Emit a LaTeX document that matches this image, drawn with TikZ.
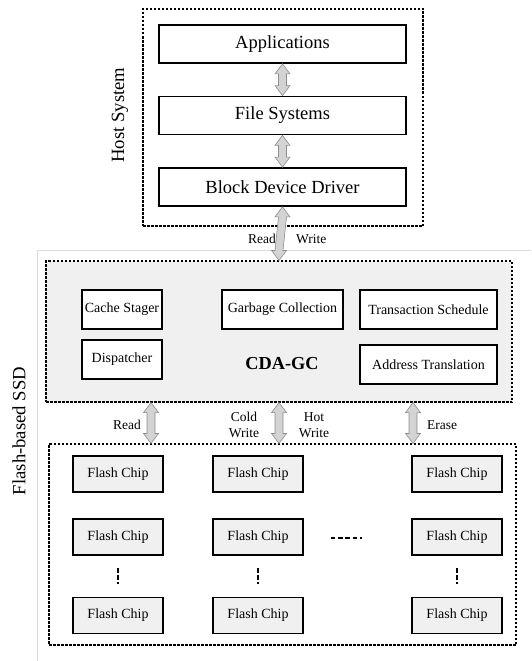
\documentclass[tikz,border=0pt]{standalone}
\usepackage{fontspec}
\setmainfont{Liberation Serif}
\usetikzlibrary{calc}
\definecolor{arrowgray}{HTML}{D3D3D3}
\definecolor{arrowedge}{HTML}{8C8C8C}
\definecolor{panelgray}{HTML}{F0F0F0}
\definecolor{ssdline}{HTML}{DCDCDC}
\newcommand{\dblarrow}[2]{%
  \filldraw[fatarrow] (#1) -- ++(7.5,-10) -- ++(-3.5,0) -- ($(#2)+(4,10)$) -- ++(3.5,0) -- (#2)
    -- ++(-7.5,10) -- ++(3.5,0) -- ($(#1)+(-4,-10)$) -- ++(-3.5,0) -- cycle;}
\begin{document}
\begin{tikzpicture}[x=1pt,y=1pt,
    layerbox/.style={draw,line width=1.8pt,fill=white,minimum width=247pt,minimum height=38pt,inner sep=0pt,font=\fontsize{18.5}{22}\selectfont},
    modbox/.style={draw,line width=1.8pt,fill=white,minimum height=39pt,inner sep=0pt,font=\fontsize{14}{16}\selectfont},
    chipbox/.style={draw,line width=1.8pt,fill=panelgray,minimum width=90pt,minimum height=36pt,inner sep=0pt,font=\fontsize{14}{16}\selectfont},
    groupbox/.style={draw,line width=1.1pt,dash pattern=on 2.5pt off 1.5pt,inner sep=0pt},
    fatarrow/.style={fill=arrowgray,draw=arrowedge,line width=0.6pt},
    lbl/.style={font=\fontsize{13.5}{16.5}\selectfont,align=center,inner sep=0pt},
    sidelbl/.style={font=\fontsize{18.7}{22}\selectfont,rotate=90,inner sep=0pt}]
  \useasboundingbox (0,0) rectangle (531,-661);

  \draw[ssdline,line width=1pt] (531,-250) -- (37,-250) -- (37,-661);

  \node[groupbox,minimum width=280pt,minimum height=217pt] (host) at (283,-117.5) {};
  \node[sidelbl] (hostlbl) at (120,-115) {Host System};
  \node[layerbox] (apps) at (282.5,-44) {Applications};
  \node[layerbox] (fs) at (282.5,-115.5) {File Systems};
  \node[layerbox] (bdd) at (282.5,-187) {Block Device Driver};

  \node[sidelbl] (ssdlbl) at (19,-431) {Flash-based SSD};
  \node[groupbox,fill=panelgray,minimum width=466pt,minimum height=141pt] (cda) at (279,-331.5) {};
  \node[modbox,minimum width=80pt] (stager) at (122,-309.5) {Cache Stager};
  \node[modbox,minimum width=121pt] (gc) at (282.5,-309.5) {Garbage Collection};
  \node[modbox,minimum width=137pt] (sched) at (428.5,-309.5) {Transaction Schedule};
  \node[modbox,minimum width=80pt] (disp) at (122,-359.5) {Dispatcher};
  \node[modbox,minimum width=137pt] (addr) at (428.5,-364.5) {Address Translation};
  \node[font=\fontsize{18.3}{22}\selectfont\bfseries,inner sep=0pt] (cdagc) at (282,-364) {CDA-GC};

  \node[groupbox,minimum width=467pt,minimum height=201pt] (flash) at (282.5,-544.5) {};
  \node[chipbox] (chipA1) at (118,-474) {Flash Chip};
  \node[chipbox] (chipB1) at (258,-474) {Flash Chip};
  \node[chipbox] (chipC1) at (457,-474) {Flash Chip};
  \node[chipbox] (chipA2) at (118,-537) {Flash Chip};
  \node[chipbox] (chipB2) at (258,-537) {Flash Chip};
  \node[chipbox] (chipC2) at (457,-537) {Flash Chip};
  \node[chipbox] (chipA3) at (118,-615.5) {Flash Chip};
  \node[chipbox] (chipB3) at (258,-615.5) {Flash Chip};
  \node[chipbox] (chipC3) at (457,-615.5) {Flash Chip};
  \draw[line width=1.5pt,dash pattern=on 5pt off 1.8pt] ($(chipA2.south)+(0,-12)$) -- ($(chipA3.north)+(0,13)$);
  \draw[line width=1.5pt,dash pattern=on 5pt off 1.8pt] ($(chipB2.south)+(0,-12)$) -- ($(chipB3.north)+(0,13)$);
  \draw[line width=1.5pt,dash pattern=on 5pt off 1.8pt] ($(chipC2.south)+(0,-12)$) -- ($(chipC3.north)+(0,13)$);
  \draw[line width=1.5pt,dash pattern=on 4.5pt off 2.7pt] ($(chipB2.east)+(27,-1)$) -- ($(chipC2.west)+(-49,-1)$);

  \dblarrow{apps.south}{fs.north}
  \dblarrow{fs.south}{bdd.north}
  \dblarrow{bdd.south}{cda.north}
  \node[lbl,anchor=east] (rdhost) at (276,-239) {Read};
  \node[lbl,anchor=west] (wrhost) at (296,-239) {Write};

  \dblarrow{[xshift=-128pt]cda.south}{[xshift=-128pt]cda.south |- flash.north}
  \dblarrow{cda.south}{cda.south |- flash.north}
  \dblarrow{[xshift=134pt]cda.south}{[xshift=134pt]cda.south |- flash.north}
  \node[lbl] (rdchip) at (127,-425) {Read};
  \node[lbl] (coldwr) at (244,-425) {Cold\\Write};
  \node[lbl] (hotwr) at (314,-425) {Hot\\Write};
  \node[lbl] (erase) at (442,-425) {Erase};
\end{tikzpicture}
\end{document}
